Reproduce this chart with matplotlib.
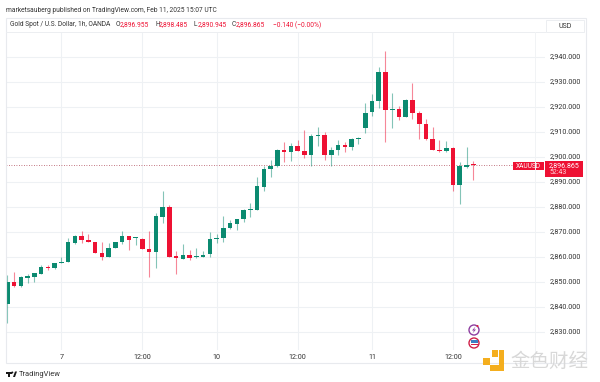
import matplotlib
matplotlib.use("Agg")
import matplotlib.pyplot as plt
from matplotlib.patches import Rectangle, Circle, Polygon

plt.rcParams["font.family"] = ["Roboto", "DejaVu Sans"]

# OHLC, one hourly candle per entry
opens = [2841.3, 2850.0, 2848.3, 2851.7, 2852.1, 2853.3, 2856.0, 2855.5, 2857.5, 2858.1,
         2865.5, 2868.4, 2866.8, 2866.1, 2861.6, 2860.1, 2863.6, 2865.9, 2868.4, 2867.5,
         2867.3, 2863.2, 2862.0, 2876.1, 2880.1, 2860.3, 2859.3, 2860.8, 2859.9, 2860.1,
         2861.2, 2867.1, 2867.5, 2871.5, 2873.2, 2875.1, 2878.8, 2878.9, 2888.1, 2895.1,
         2896.3, 2902.8, 2902.1, 2904.4, 2902.5, 2900.9, 2908.4, 2908.8, 2900.8, 2902.9,
         2904.8, 2904.1, 2907.1, 2911.6, 2917.9, 2922.5, 2933.9, 2918.8, 2919.3, 2916.0,
         2922.8, 2917.5, 2913.1, 2907.2, 2902.9, 2902.3, 2903.6, 2888.9, 2896.1, 2896.955]
closes = [2850.0, 2848.3, 2852.1, 2852.3, 2853.5, 2856.0, 2855.5, 2857.6, 2858.0, 2865.9,
          2868.4, 2866.7, 2865.9, 2861.7, 2860.1, 2863.6, 2865.9, 2868.4, 2867.0, 2867.7,
          2863.1, 2862.0, 2876.4, 2880.1, 2860.1, 2859.6, 2860.8, 2859.7, 2860.4, 2860.8,
          2867.2, 2867.5, 2871.6, 2873.6, 2875.2, 2878.9, 2879.2, 2888.3, 2895.3, 2896.4,
          2902.8, 2902.1, 2904.4, 2902.5, 2900.8, 2908.4, 2908.8, 2900.8, 2902.9, 2904.9,
          2904.0, 2907.1, 2907.7, 2917.7, 2922.4, 2933.9, 2918.8, 2919.3, 2916.0, 2922.9,
          2917.7, 2913.1, 2907.1, 2902.9, 2902.3, 2903.6, 2888.9, 2896.4, 2896.7, 2896.865]
highs = [2852.8, 2854.1, 2852.4, 2853.2, 2853.7, 2856.9, 2856.8, 2857.7, 2860.1, 2867.5,
         2868.8, 2870.4, 2869.3, 2866.1, 2865.9, 2865.5, 2866.1, 2870.4, 2868.4, 2868.0,
         2867.6, 2870.4, 2877.5, 2886.4, 2881.0, 2862.4, 2865.1, 2862.8, 2863.5, 2862.5,
         2870.1, 2869.2, 2876.4, 2874.8, 2875.3, 2879.3, 2881.5, 2892.1, 2896.5, 2898.8,
         2903.1, 2906.1, 2905.5, 2906.8, 2910.8, 2909.2, 2911.9, 2910.1, 2903.9, 2906.8,
         2906.1, 2907.7, 2908.1, 2921.5, 2925.1, 2936.1, 2942.5, 2925.7, 2920.5, 2923.1,
         2929.5, 2918.4, 2915.2, 2912.1, 2906.8, 2906.4, 2903.9, 2898.0, 2904.1, 2898.485]
lows = [2833.5, 2848.1, 2848.0, 2849.5, 2849.9, 2853.1, 2854.7, 2855.2, 2857.5, 2858.0,
        2865.2, 2865.7, 2865.9, 2861.7, 2858.8, 2860.1, 2863.5, 2865.2, 2862.8, 2864.8,
        2863.1, 2852.1, 2855.7, 2873.5, 2860.1, 2853.1, 2859.2, 2858.8, 2859.7, 2860.1,
        2859.9, 2865.7, 2865.9, 2871.2, 2870.8, 2874.1, 2876.1, 2878.8, 2886.5, 2892.1,
        2896.1, 2898.1, 2898.4, 2902.4, 2899.7, 2896.4, 2904.4, 2898.9, 2896.4, 2900.8,
        2902.1, 2902.9, 2905.2, 2909.7, 2916.4, 2919.5, 2906.0, 2911.6, 2914.8, 2915.9,
        2915.2, 2907.1, 2906.8, 2902.8, 2902.1, 2902.1, 2886.5, 2881.3, 2895.5, 2890.945]

price_ticks = [2830, 2840, 2850, 2860, 2870, 2880, 2890, 2900, 2910, 2920, 2930, 2940]
time_ticks = [8, 20, 31, 43, 54, 66]
time_labels = ["7", "12:00", "10", "12:00", "11", "12:00"]
last_price = 2896.865

GREEN = "#0b8a70"
RED = "#ee1133"
GRID = "#eef1f4"
W, H = 600, 382

fig = plt.figure(figsize=(W / 100, H / 100), dpi=100)

# Candle pane: 6.753 px per candle, 2.5 px per dollar
ax = fig.add_axes([6 / W, 1 - 350 / H, (545 - 6) / W, (350 - 32) / H])
ax.set_xlim((6 - 7.3) / 6.753, (545 - 7.3) / 6.753)
ax.set_ylim(2940 - (350 - 57) / 2.5, 2940 + (57 - 32) / 2.5)
for s in ax.spines.values():
    s.set_visible(False)
ax.set_xticks(time_ticks)
ax.set_yticks(price_ticks)
ax.tick_params(length=0, labelbottom=False, labelleft=False)
ax.grid(True, color=GRID, linewidth=0.8)
ax.set_axisbelow(True)

ax.axhline(last_price, xmax=(513 - 6) / (545 - 6), color="#b04a5a", linewidth=0.6, linestyle=(0, (1, 2)), zorder=1)

for i in range(len(opens)):
    col = GREEN if closes[i] >= opens[i] else RED
    ax.vlines(i, lows[i], highs[i], color=col, linewidth=0.8, alpha=0.5, zorder=2)
    bottom = min(opens[i], closes[i])
    ax.bar(i, max(abs(closes[i] - opens[i]), 0.5), bottom=bottom, width=0.68, color=col, linewidth=0, zorder=3)

# Overlay in pixel coordinates for the TradingView frame and labels
ov = fig.add_axes([0, 0, 1, 1], zorder=5)
ov.set_xlim(0, W)
ov.set_ylim(H, 0)
ov.axis("off")
ov.patch.set_alpha(0)

ov.add_patch(Rectangle((6, 18), 580, 345, fill=False, edgecolor="#e8eaee", linewidth=0.8))
ov.plot([6, 545], [32, 32], color="#eceef1", linewidth=0.7)
ov.plot([535, 535], [32, 363], color="#f1f3f5", linewidth=0.7)
ov.add_patch(Rectangle((546, 20), 38, 12, fill=False, edgecolor="#eceef1", linewidth=0.7))
ov.text(565, 26, "USD", fontsize=5, color="#333333", ha="center", va="center")

ov.text(6, 10, "marketsauberg published on TradingView.com, Feb 11, 2025 15:07 UTC",
        fontsize=4.75, color="#333333", ha="left", va="center")
ov.text(10.5, 25, "Gold Spot / U.S. Dollar, 1h, OANDA", fontsize=4.8, color="#333333", ha="left", va="center")
for x, letter, val in [(116, "O", "2,896.955"), (155, "H", "2,898.485"),
                       (194, "L", "2,890.945"), (232, "C", "2,896.865")]:
    ov.text(x, 25, letter, fontsize=4.8, color="#333333", ha="left", va="center")
    ov.text(x + 4, 25, val, fontsize=4.8, color=RED, ha="left", va="center")
ov.text(273, 25, "\u22120.140 (\u22120.00%)", fontsize=4.8, color=RED, ha="left", va="center")

for p in price_ticks:
    y = 57 + (2940 - p) * 2.5
    ov.text(565, y, f"{p:,.3f}", fontsize=5.2, color="#333333", ha="center", va="center")
for t, lab in zip(time_ticks, time_labels):
    ov.text(7.3 + 6.753 * t, 357.5, lab, fontsize=5.2, color="#333333", ha="center", va="center")

# Last price tags
ov.add_patch(Rectangle((513, 162), 31, 8, color=RED, linewidth=0))
ov.text(528.5, 166, "XAUUSD", fontsize=4.8, color="white", ha="center", va="center")
ov.add_patch(Rectangle((545, 161), 38, 16, color=RED, linewidth=0))
ov.text(564.5, 165.8, "2,896.865", fontsize=5, color="white", ha="center", va="center")
ov.text(558, 172.5, "52:43", fontsize=5, color="#ffd5da", ha="center", va="center")

# Event icons
ov.add_patch(Circle((474, 330), 5, facecolor="white", edgecolor="#8e3ea0", linewidth=1))
ov.add_patch(Polygon([(475.5, 326.5), (472, 330.5), (474, 330.5), (472.5, 333.5), (476, 329.5), (474, 329.5)],
                     color="#8e3ea0", linewidth=0))
ov.add_patch(Circle((477.5, 326), 1, color="#e0213c", linewidth=0))
ov.add_patch(Circle((474, 343), 5, facecolor="white", edgecolor="#d02048", linewidth=1))
ov.add_patch(Rectangle((470.5, 339.5), 7, 3, color="#3a7fc4", linewidth=0))
ov.add_patch(Rectangle((470.5, 344), 7, 1.2, color="#d02048", linewidth=0))

# TradingView mark
ov.add_patch(Rectangle((6, 371.5), 6, 2, color="#1a1a1a", linewidth=0))
ov.add_patch(Rectangle((8, 371.5), 2, 5.5, color="#1a1a1a", linewidth=0))
ov.add_patch(Circle((12.3, 372.5), 1, color="#1a1a1a", linewidth=0))
ov.add_patch(Polygon([(13, 377), (15, 371.5), (17, 371.5), (15, 377)], color="#1a1a1a", linewidth=0))
ov.text(18.5, 374.5, "TradingView", fontsize=5.4, color="#333333", ha="left", va="center")

# Watermark
GOLD = "#f4ae1e"
ov.add_patch(Rectangle((492, 350), 6, 7, color=GOLD, linewidth=0))
ov.add_patch(Rectangle((483, 358), 7, 7, color=GOLD, linewidth=0))
ov.add_patch(Rectangle((499, 350), 5, 21, color=GOLD, linewidth=0))
ov.add_patch(Rectangle((490, 365), 14, 6, color=GOLD, linewidth=0))
ov.text(549.5, 361.5, "金色财经", family=["Noto Sans CJK SC", "DejaVu Sans"], fontsize=14,
        color="#d8d8d8", ha="center", va="center")

fig.savefig("out.png", dpi=100)
